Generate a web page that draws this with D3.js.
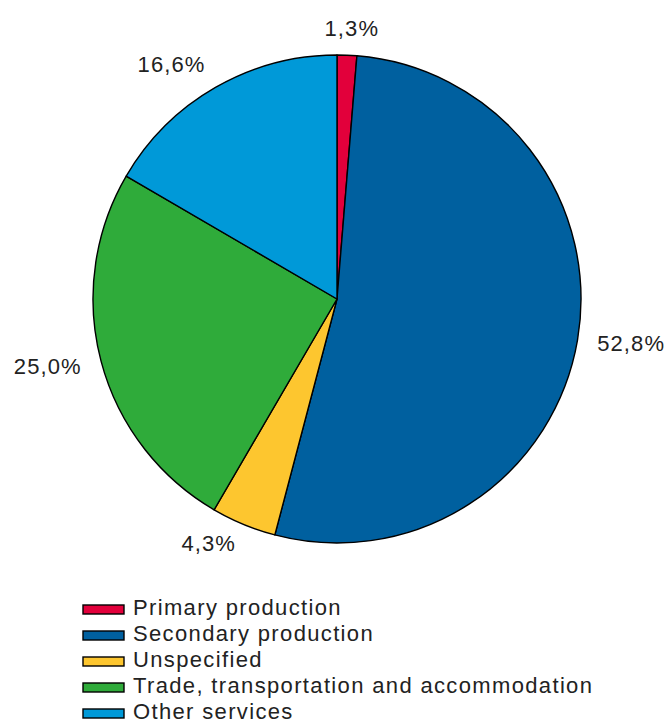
<!DOCTYPE html>
<html><head><meta charset="utf-8">
<script src="https://cdn.jsdelivr.net/npm/d3@7"></script>
<style>body{margin:0;background:#fff}svg{display:block}</style>
</head><body>
<svg id="c" width="669" height="724"></svg>
<script>
const categories = ["Primary production","Secondary production","Unspecified","Trade, transportation and accommodation","Other services"];
const values = [1.3, 52.8, 4.3, 25.0, 16.6];
const labels = ["1,3%","52,8%","4,3%","25,0%","16,6%"];
const colors = ["#e2003b","#00609f","#fdc62f","#2fab3a","#0099d8"];

const svg = d3.select("#c");
const cx = 337, cy = 299, r = 244;
const font = "Arial, 'Liberation Sans', sans-serif";
const pie = d3.pie().sort(null).value(d => d)(values);
const arc = d3.arc().innerRadius(0).outerRadius(r);
const g = svg.append("g").attr("transform", `translate(${cx},${cy})`);
g.selectAll("path").data(pie).join("path")
  .attr("d", arc).attr("fill", (d,i) => colors[i])
  .attr("stroke", "#000").attr("stroke-width", 1.4).attr("stroke-linejoin","round");

const lblArc = d3.arc().innerRadius(r + 20).outerRadius(r + 20);
pie.forEach((d,i) => {
  const a = (d.startAngle + d.endAngle)/2;
  const s = Math.sin(a), c = Math.cos(a);
  const [px, py] = lblArc.centroid(d);
  const anchor = s > 0.1 ? "start" : (s < -0.1 ? "end" : "middle");
  g.append("text").text(labels[i])
    .attr("font-family", font).attr("font-size", 22).attr("letter-spacing", 1.1)
    .attr("fill", "#222").attr("text-anchor", anchor)
    .attr("x", anchor === "middle" ? px + 4 : px)
    .attr("y", py - Math.max(0, c) * 7).attr("dy", "0.36em");
});

const leg = svg.append("g");
categories.forEach((cat,i) => {
  const y = 615 + i*26;
  leg.append("rect").attr("x", 83).attr("y", y-10).attr("width", 41).attr("height", 9)
    .attr("fill", colors[i]).attr("stroke", "#000").attr("stroke-width", 1.4);
  leg.append("text").attr("x", 133).attr("y", y).text(cat)
    .attr("font-family", font).attr("font-size", 22).attr("letter-spacing", 1.35)
    .attr("fill", "#222");
});
</script>
</body></html>
